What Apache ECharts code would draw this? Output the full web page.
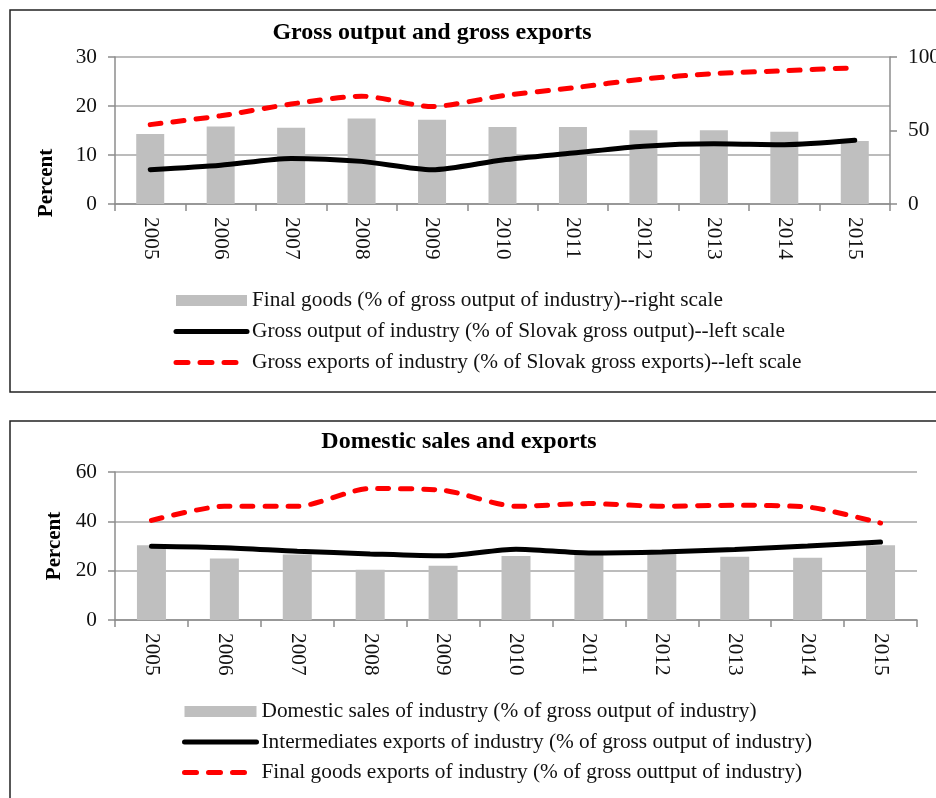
<!DOCTYPE html>
<html>
<head>
<meta charset="utf-8">
<script src="https://cdn.jsdelivr.net/npm/echarts@6/dist/echarts.min.js"></script>
<style>
  html, body { margin: 0; padding: 0; background: #fff; }
  #chart { width: 936px; height: 798px; }
</style>
</head>
<body>
<div id="chart"></div>
<script>
// data
const years = ["2005", "2006", "2007", "2008", "2009", "2010", "2011", "2012", "2013", "2014", "2015"];

// top panel
const finalGoodsShare = [47.6, 52.8, 51.9, 58.2, 57.3, 52.4, 52.4, 50.1, 50.1, 49.2, 42.9]; // right scale
const grossOutputShare = [7.0, 7.9, 9.3, 8.7, 7.0, 9.0, 10.4, 11.8, 12.3, 12.1, 13.0];
const grossExportsShare = [16.2, 18.0, 20.4, 22.0, 19.9, 22.1, 23.7, 25.5, 26.6, 27.2, 27.8];

// bottom panel
const domesticSales = [30.3, 24.9, 26.6, 20.4, 22.0, 25.9, 26.5, 26.8, 25.6, 25.2, 30.3];
const intermediatesExports = [29.9, 29.3, 27.9, 26.8, 26.0, 28.7, 27.2, 27.6, 28.6, 30.0, 31.6];
const finalGoodsExports = [40.4, 46.1, 46.1, 53.3, 52.6, 46.1, 47.2, 46.1, 46.5, 45.8, 39.3];

const names = {
  fg: "Final goods (% of gross output of industry)--right scale",
  go: "Gross output of industry (% of Slovak gross output)--left scale",
  ge: "Gross exports of industry (% of Slovak gross exports)--left scale",
  ds: "Domestic sales of industry (% of gross output of industry)",
  ie: "Intermediates exports of industry (% of gross output of industry)",
  fe: "Final goods exports of industry (% of gross outtput of industry)",
};

const FONT = "'Liberation Serif', 'Times New Roman', serif";
const axisGray = "#8c8c8c";
const gridGray = "#a6a6a6";
const barGray = "#bfbfbf";
const LABEL_SIZE = 21.3;

const chart = echarts.init(document.getElementById("chart"));

// category axis, shared look
const catAxis = (gridIndex) => ({
  type: "category",
  gridIndex: gridIndex,
  data: years,
  boundaryGap: true,
  axisLine: { show: true, lineStyle: { color: axisGray, width: 1.5 } },
  axisTick: { show: true, interval: 0, length: 7, lineStyle: { color: axisGray, width: 1.5 } },
  axisLabel: {
    interval: 0,
    rotate: -90,
    margin: 13,
    color: "#111",
    fontFamily: FONT,
    fontSize: LABEL_SIZE,
  },
  splitLine: { show: false },
});

const valAxis = (gridIndex, max, interval, position, split) => ({
  type: "value",
  gridIndex: gridIndex,
  position: position,
  min: 0,
  max: max,
  interval: interval,
  axisLine: { show: true, lineStyle: { color: axisGray, width: 1.5 } },
  axisTick: { show: true, length: 7, lineStyle: { color: axisGray, width: 1.5 } },
  axisLabel: { color: "#111", fontFamily: FONT, fontSize: LABEL_SIZE, margin: 18 },
  splitLine: { show: split, lineStyle: { color: gridGray, width: 1.5 } },
});

const redDash = { color: "#ff0000", width: 5, type: [11, 12], cap: "round" };
const blackLine = { color: "#000", width: 5, cap: "round" };

// legend entry for a line series: hide the marker, keep a thick stroke
const lineEntry = (name, style) => ({
  name: name,
  itemStyle: { opacity: 0 },
  lineStyle: style,
});

const legendText = { fontFamily: FONT, fontSize: LABEL_SIZE, lineHeight: 21, color: "#111" };
const legendDash = Object.assign({}, redDash, { type: [12, 12] });

const option = {
  animation: false,
  textStyle: { fontFamily: FONT },
  title: [
    {
      text: "Gross output and gross exports",
      left: 427,
      top: 15.5,
      textAlign: "center",
      textStyle: { fontFamily: FONT, fontSize: 24, fontWeight: "bold", color: "#000" },
    },
    {
      text: "Domestic sales and exports",
      left: 454,
      top: 425,
      textAlign: "center",
      textStyle: { fontFamily: FONT, fontSize: 24, fontWeight: "bold", color: "#000" },
    },
  ],
  graphic: [
    // panel frames
    { type: "rect", shape: { x: 10, y: 10, width: 940, height: 382 }, style: { fill: "none", stroke: "#222", lineWidth: 1.5 }, silent: true },
    { type: "rect", shape: { x: 10, y: 421, width: 940, height: 400 }, style: { fill: "none", stroke: "#222", lineWidth: 1.5 }, silent: true },
    // y axis titles
    {
      type: "text", x: 47, y: 183, rotation: Math.PI / 2,
      style: { text: "Percent", font: "bold 21px " + FONT, fill: "#000", align: "center", verticalAlign: "middle" },
    },
    {
      type: "text", x: 55, y: 546, rotation: Math.PI / 2,
      style: { text: "Percent", font: "bold 21px " + FONT, fill: "#000", align: "center", verticalAlign: "middle" },
    },
  ],
  legend: [
    {
      orient: "vertical",
      left: 168.5,
      top: 285,
      itemWidth: 71,
      itemHeight: 11,
      itemGap: 10,
      textStyle: legendText,
      data: [{ name: names.fg, icon: "rect" }, lineEntry(names.go, blackLine), lineEntry(names.ge, legendDash)],
    },
    {
      orient: "vertical",
      left: 177,
      top: 696,
      itemWidth: 72,
      itemHeight: 11,
      itemGap: 9.5,
      textStyle: legendText,
      data: [{ name: names.ds, icon: "rect" }, lineEntry(names.ie, blackLine), lineEntry(names.fe, legendDash)],
    },
  ],
  grid: [
    { left: 115, right: 46, top: 57, height: 147, outerBoundsMode: "none" },
    { left: 115, right: 19, top: 472, height: 148, outerBoundsMode: "none" },
  ],
  xAxis: [catAxis(0), catAxis(1)],
  yAxis: [
    valAxis(0, 30, 10, "left", true),
    valAxis(0, 100, 50, "right", false),
    valAxis(1, 60, 20, "left", true),
  ],
  series: [
    {
      name: names.fg,
      type: "bar",
      xAxisIndex: 0,
      yAxisIndex: 1,
      data: finalGoodsShare,
      barWidth: 28,
      itemStyle: { color: barGray },
    },
    {
      name: names.go,
      type: "line",
      xAxisIndex: 0,
      yAxisIndex: 0,
      data: grossOutputShare,
      smooth: 0.25,
      symbol: "none",
      lineStyle: blackLine,
      itemStyle: { color: "#000" },
    },
    {
      name: names.ge,
      type: "line",
      xAxisIndex: 0,
      yAxisIndex: 0,
      data: grossExportsShare,
      smooth: 0.25,
      symbol: "none",
      lineStyle: redDash,
      itemStyle: { color: "#ff0000" },
    },
    {
      name: names.ds,
      type: "bar",
      xAxisIndex: 1,
      yAxisIndex: 2,
      data: domesticSales,
      barWidth: 29,
      itemStyle: { color: barGray },
    },
    {
      name: names.ie,
      type: "line",
      xAxisIndex: 1,
      yAxisIndex: 2,
      data: intermediatesExports,
      smooth: 0.25,
      symbol: "none",
      lineStyle: blackLine,
      itemStyle: { color: "#000" },
    },
    {
      name: names.fe,
      type: "line",
      xAxisIndex: 1,
      yAxisIndex: 2,
      data: finalGoodsExports,
      smooth: 0.25,
      symbol: "none",
      lineStyle: redDash,
      itemStyle: { color: "#ff0000" },
    },
  ],
};

chart.setOption(option);
</script>
</body>
</html>
